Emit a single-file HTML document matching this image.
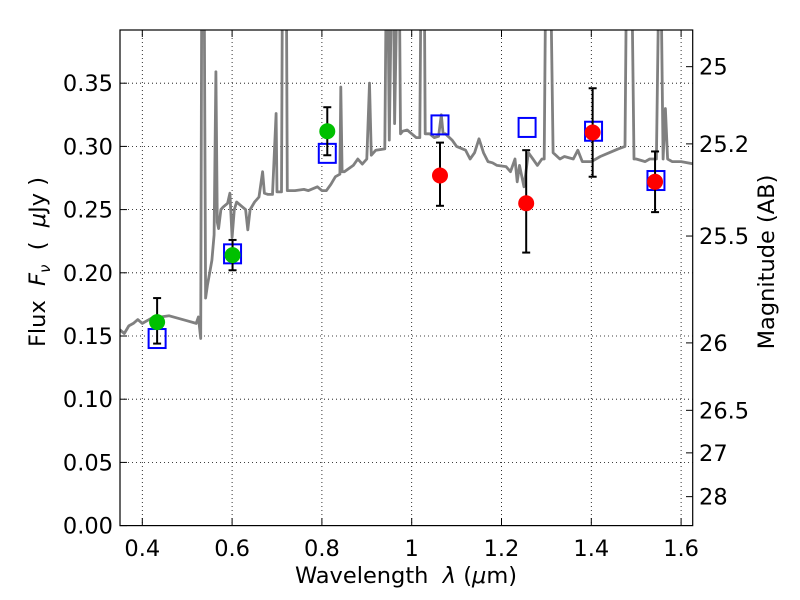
<!DOCTYPE html>
<html><head><meta charset="utf-8"><style>body{margin:0;background:#fff}svg{display:block}text{font-family:"DejaVu Sans","Liberation Sans",sans-serif;font-size:22.5px;fill:#000}</style></head>
<body>
<svg id="chart" width="800" height="600" viewBox="0 0 800 600" xmlns="http://www.w3.org/2000/svg">
<defs><clipPath id="plotclip"><rect x="120" y="30" width="572.7" height="495.6"/></clipPath></defs>
<g id="grid"></g>
<g id="spec" clip-path="url(#plotclip)"></g>
<g id="marks"></g>
<rect x="120" y="30" width="572.7" height="495.6" fill="none" stroke="#000" stroke-width="1.2"/>
<g id="axes"></g>
<text x="406" y="583" text-anchor="middle">Wavelength&#160;&#160;<tspan font-style="italic">λ</tspan> (<tspan font-style="italic">μ</tspan>m)</text>
<text transform="translate(45,262) rotate(-90)" text-anchor="middle">Flux&#160;&#160;<tspan font-style="italic">F</tspan><tspan font-style="italic" font-size="15" dy="5">ν</tspan><tspan dy="-5">&#160;&#160;(&#160;&#160;</tspan><tspan font-style="italic">μ</tspan>Jy )</text>
<text transform="translate(774,262) rotate(-90)" text-anchor="middle">Magnitude (AB)</text>
</svg>
<script>
const xTicks=[0.4,0.6,0.8,1.0,1.2,1.4,1.6];
const xTickLabels=["0.4","0.6","0.8","1","1.2","1.4","1.6"];
const yTicks=[0,0.05,0.1,0.15,0.2,0.25,0.3,0.35];
const yTickLabels=["0.00","0.05","0.10","0.15","0.20","0.25","0.30","0.35"];
const magTicks=[25,25.2,25.5,26,26.5,27,28];
const magTickLabels=["25","25.2","25.5","26","26.5","27","28"];
const greenX=[0.433,0.601,0.812];
const greenY=[0.161,0.214,0.312];
const greenHi=[0.180,0.226,0.331];
const greenLo=[0.144,0.202,0.293];
const redX=[1.063,1.255,1.403,1.542];
const redY=[0.277,0.255,0.311,0.272];
const redHi=[0.303,0.297,0.346,0.296];
const redLo=[0.253,0.216,0.276,0.248];
const modelX=[0.433,0.601,0.812,1.063,1.257,1.405,1.544];
const modelY=[0.148,0.215,0.2945,0.317,0.315,0.312,0.273];
const specX=[0.35,0.36,0.37,0.38,0.39,0.40,0.42,0.44,0.46,0.48,0.50,0.52,0.525,0.53,0.533,0.537,0.541,0.545,0.55,0.555,0.56,0.564,0.567,0.57,0.575,0.58,0.59,0.595,0.60,0.605,0.61,0.62,0.63,0.635,0.64,0.65,0.66,0.668,0.672,0.68,0.69,0.698,0.70,0.71,0.713,0.72,0.723,0.73,0.74,0.76,0.77,0.79,0.80,0.81,0.82,0.83,0.84,0.842,0.845,0.85,0.87,0.88,0.89,0.90,0.906,0.91,0.92,0.94,0.945,0.95,0.958,0.962,0.971,0.975,0.98,0.99,1.0,1.01,1.018,1.022,1.027,1.03,1.04,1.05,1.06,1.066,1.07,1.075,1.09,1.10,1.12,1.13,1.14,1.15,1.16,1.17,1.18,1.19,1.21,1.22,1.23,1.235,1.24,1.25,1.26,1.27,1.28,1.29,1.295,1.30,1.307,1.315,1.33,1.34,1.36,1.37,1.38,1.40,1.42,1.44,1.46,1.475,1.48,1.488,1.495,1.50,1.52,1.53,1.545,1.553,1.56,1.565,1.57,1.58,1.60,1.63];
const specY=[0.155,0.152,0.158,0.160,0.163,0.160,0.164,0.165,0.166,0.164,0.162,0.160,0.165,0.148,0.5,0.5,0.18,0.19,0.2,0.21,0.23,0.359,0.24,0.235,0.25,0.252,0.255,0.263,0.228,0.25,0.256,0.253,0.25,0.234,0.25,0.256,0.26,0.28,0.263,0.262,0.262,0.326,0.264,0.264,0.5,0.5,0.265,0.265,0.265,0.266,0.265,0.268,0.265,0.265,0.27,0.276,0.278,0.347,0.28,0.28,0.285,0.29,0.286,0.29,0.35,0.293,0.297,0.298,0.5,0.305,0.5,0.318,0.5,0.31,0.312,0.313,0.31,0.307,0.307,0.5,0.5,0.31,0.31,0.307,0.308,0.325,0.31,0.31,0.305,0.30,0.297,0.29,0.295,0.306,0.295,0.288,0.287,0.285,0.284,0.28,0.29,0.272,0.285,0.268,0.295,0.29,0.285,0.29,0.29,0.5,0.5,0.295,0.29,0.292,0.29,0.297,0.288,0.288,0.292,0.295,0.298,0.3,0.5,0.5,0.29,0.29,0.288,0.29,0.29,0.5,0.29,0.33,0.29,0.288,0.288,0.286];
const X0=0.4,XP0=142.3,XS=449;
const Y0=525.6,YS=1264;
function sx(v){return XP0+(v-X0)*XS;}
function sy(v){return Y0-v*YS;}
function magToFlux(m){return Math.pow(10,(23.9-m)/2.5);}
const NS="http://www.w3.org/2000/svg";
function mk(tag,attrs,parent){const e=document.createElementNS(NS,tag);for(const k in attrs)e.setAttribute(k,attrs[k]);parent.appendChild(e);return e;}
const grid=document.getElementById('grid'),axes=document.getElementById('axes');
xTicks.forEach((t,i)=>{const x=sx(t);
 const g=mk('line',{x1:x,x2:x,y1:30,y2:525.6,stroke:'#000','stroke-width':0.8,'stroke-dasharray':'1,3'},grid);
 
 const tk=mk('line',{x1:x,x2:x,y1:525.6,y2:518,stroke:'#000'},axes);
 
 const tt=mk('line',{x1:x,x2:x,y1:30,y2:37,stroke:'#000'},axes);
 
 const l=mk('text',{x:x,y:556,'text-anchor':'middle'},axes);l.textContent=xTickLabels[i];
 });
yTicks.forEach((t,i)=>{const y=sy(t);
 const g=mk('line',{x1:120,x2:692.7,y1:y,y2:y,stroke:'#000','stroke-width':0.8,'stroke-dasharray':'1,3'},grid);
 
 const tk=mk('line',{x1:120,x2:127,y1:y,y2:y,stroke:'#000'},axes);
 
 const l=mk('text',{x:113,y:y+8,'text-anchor':'end'},axes);l.textContent=yTickLabels[i];
 });
magTicks.forEach((m,i)=>{const y=sy(magToFlux(m));
 const tk=mk('line',{x1:692.7,x2:686,y1:y,y2:y,stroke:'#000'},axes);
 
 const l=mk('text',{x:699,y:y+8},axes);l.textContent=magTickLabels[i];
 });
const spec=document.getElementById('spec');
const pts=specX.map((x,i)=>sx(x).toFixed(1)+','+sy(specY[i]).toFixed(1)).join(' ');
const pl=mk('polyline',{points:pts,fill:'none',stroke:'#808080','stroke-width':2.8,'stroke-linejoin':'round'},spec);

const marks=document.getElementById('marks');
function errbar(x,lo,hi){const X=sx(x);
 const a=mk('line',{x1:X,x2:X,y1:sy(lo),y2:sy(hi),stroke:'#000','stroke-width':2},marks);
 
 [lo,hi].forEach(v=>{const c=mk('line',{x1:X-4,x2:X+4,y1:sy(v),y2:sy(v),stroke:'#000','stroke-width':2},marks);
 });}
modelX.forEach((x,i)=>{const r=mk('rect',{x:sx(x)-8.5,y:sy(modelY[i])-9.5,width:17,height:19,fill:'none',stroke:'#0000ff','stroke-width':2},marks);
 });
greenX.forEach((x,i)=>{errbar(x,greenLo[i],greenHi[i]);
 const c=mk('circle',{cx:sx(x),cy:sy(greenY[i]),r:8,fill:'#00c000'},marks);
 });
redX.forEach((x,i)=>{errbar(x,redLo[i],redHi[i]);
 const c=mk('circle',{cx:sx(x),cy:sy(redY[i]),r:8,fill:'#ff0000'},marks);
 });
</script>
</body></html>
